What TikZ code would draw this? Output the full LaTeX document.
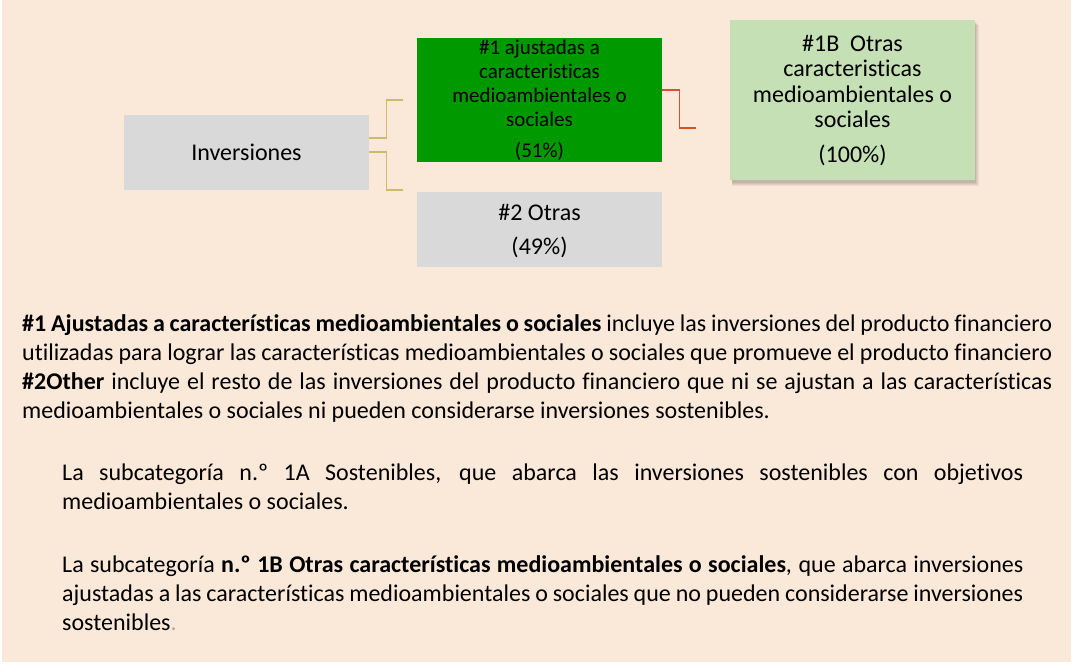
\documentclass[tikz,border=0pt]{standalone}
\usepackage{fontspec}
\setmainfont{Carlito}[Ligatures=NoCommon]
\usetikzlibrary{shadows}
\definecolor{bgpeach}{HTML}{FAE8D8}
\definecolor{boxgrey}{HTML}{D9D9D9}
\definecolor{boxgreen}{HTML}{009900}
\definecolor{boxlight}{HTML}{C5E0B4}
\definecolor{linktan}{RGB}{204,187,110}
\definecolor{linkred}{RGB}{214,80,48}
\definecolor{dotgrey}{RGB}{170,170,170}
\begin{document}
\begin{tikzpicture}[x=1pt,y=-1pt,
  boxnode/.style={draw=none, inner sep=0, anchor=north west, minimum width=245pt},
  txt/.style={anchor=base, inner sep=0, font=\fontsize{24}{29}\selectfont},
  gtxt/.style={anchor=base, inner sep=0, font=\fontsize{21}{24}\selectfont},
  para/.style={anchor=base west, inner sep=0, font=\fontsize{24}{29}\selectfont},
  tanlink/.style={draw=linktan, line width=1.5pt},
  redlink/.style={draw=linkred, line width=1.5pt}]
\useasboundingbox (0,0) rectangle (1074,665);
\fill[white] (0,0) rectangle (1074,665);
\fill[bgpeach] (2,0) rectangle (1071,662);

% soft shadow of the #1B box
\foreach \s/\o in {6/0.05,5/0.05,4/0.06,3/0.07}
  \fill[black, opacity=\o] (732,22+\s-3) rectangle (975+\s-2,180+\s);

% boxes
\node[boxnode, fill=boxgrey, minimum height=75pt] (inv) at (124,115) {};
\node[boxnode, fill=boxgreen, minimum height=124pt] (g1) at (417,38) {};
\node[boxnode, fill=boxgrey, minimum height=75pt] (o2) at (417,192) {};
\node[boxnode, fill=boxlight, minimum height=160pt] (b1) at (730,20) {};

% box texts
\node[txt] (invt) at (246.5,160) {Inversiones};
\node[gtxt] (g1a) at (539.5,54) {\#1 ajustadas a};
\node[gtxt] (g1b) at (539.5,78) {caracteristicas};
\node[gtxt] (g1c) at (539.5,102) {medioambientales o};
\node[gtxt] (g1d) at (539.5,126) {sociales};
\node[gtxt] (g1e) at (539.5,157) {(51\%)};
\node[txt] (o2a) at (539.5,220) {\#2 Otras};
\node[txt] (o2b) at (539.5,254) {(49\%)};
\node[txt] (b1a) at (852.5,51) {\#1B\ \ Otras};
\node[txt] (b1b) at (852.5,76.5) {caracteristicas};
\node[txt] (b1c) at (852.5,102) {medioambientales o};
\node[txt] (b1d) at (852.5,127.5) {sociales};
\node[txt] (b1e) at (852.5,162) {(100\%)};

% connectors
\coordinate (t1) at (403,100);
\coordinate (t2) at (403,190);
\coordinate (r1) at (696,128);
\draw[tanlink] ([yshift=14.5pt]inv.east) -- ++(17,0) |- (t1);
\draw[tanlink] ([yshift=0.5pt]inv.east) -- ++(17,0) |- (t2);
\draw[redlink] ([yshift=10pt]g1.east) -- ++(17,0) |- (r1);

% paragraph 1
\node[para] (p1a) at (22,331) {\makebox[1030pt][s]{\textbf{\#1 Ajustadas a características medioambientales o sociales} incluye las inversiones del producto financiero}};
\node[para] (p1b) at (22,360) {\makebox[1030pt][s]{utilizadas para lograr las características medioambientales o sociales que promueve el producto financiero}};
\node[para] (p1c) at (22,389) {\makebox[1030pt][s]{\textbf{\#2Other} incluye el resto de las inversiones del producto financiero que ni se ajustan a las características}};
\node[para] (p1d) at (22,418) {medioambientales o sociales ni pueden considerarse inversiones sostenibles.};

% paragraph 2
\node[para] (p2a) at (62,480) {\makebox[961pt][s]{La subcategoría n.º 1A Sostenibles, que abarca las inversiones sostenibles con objetivos}};
\node[para] (p2b) at (62,509) {medioambientales o sociales.};

% paragraph 3
\node[para] (p3a) at (62,572) {\makebox[961pt][s]{La subcategoría \textbf{n.º 1B Otras características medioambientales o sociales}, que abarca inversiones}};
\node[para] (p3b) at (62,601) {\makebox[961pt][s]{ajustadas a las características medioambientales o sociales que no pueden considerarse inversiones}};
\node[para] (p3c) at (62,630) {sostenibles\textcolor{dotgrey}{.}};
\end{tikzpicture}
\end{document}
